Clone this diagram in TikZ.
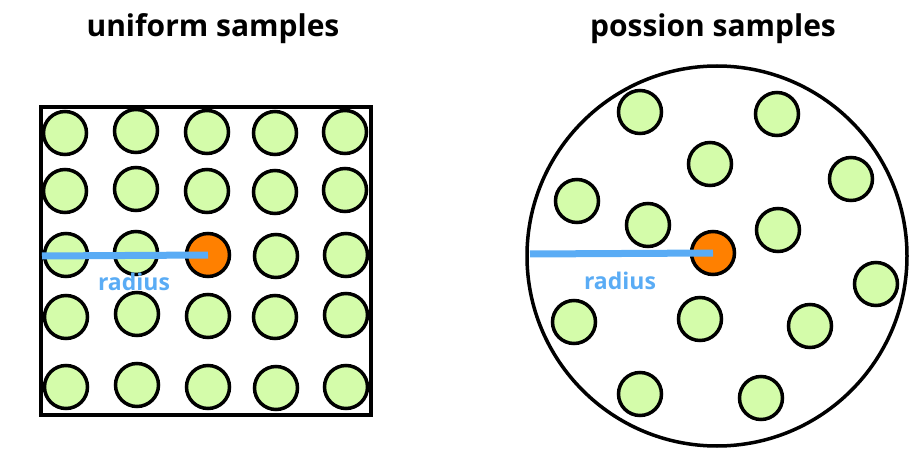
\documentclass[tikz,border=0pt]{standalone}
\usepackage{fontspec}
\setmainfont{Open Sans}
\definecolor{dotgreen}{RGB}{212,252,170}
\definecolor{dotorange}{RGB}{255,128,0}
\definecolor{radblue}{RGB}{90,172,245}
\begin{document}
\begin{tikzpicture}[x=1pt,y=-1pt,
  dot/.style={circle,draw=black,line width=3.5pt,fill=dotgreen,minimum size=43pt,inner sep=0pt},
  center/.style={dot,fill=dotorange},
  radline/.style={draw=radblue,line width=7pt},
  radlabel/.style={text=radblue,font=\fontsize{23}{26}\selectfont\bfseries},
  title/.style={font=\fontsize{30}{36}\selectfont\bfseries},
  frame/.style={draw=black,line width=3.5pt}]
\useasboundingbox (0,0) rectangle (922,468);
% titles
\node[title] (t1) at (213,29) {uniform samples};
\node[title] (t2) at (713,29) {possion samples};
% left square
\node[frame,minimum width=330pt,minimum height=308pt,inner sep=0pt] (sq) at (206,261) {};
\foreach \n/\x/\y in {
 a1/65/133,a2/136/131,a3/207/132,a4/275/133,a5/345/132,
 b1/65/191,b2/136/189,b3/207/191,b4/275/192,b5/345/190,
 c1/66/255,c2/136/253,c4/276/256,c5/346/255,
 d1/66/317,d2/137/314,d3/208/316,d4/275/317,d5/346/315,
 e1/66/387,e2/137/385,e3/208/387,e4/276/388,e5/346/387}
 \node[dot] (\n) at (\x,\y) {};
\node[center] (c3) at (208,255) {};
\coordinate (lstart) at (42,256);
\draw[radline] (lstart) -- (c3.center);
\node[radlabel] (r1) at (134,282) {radius};
% right circle
\node[frame,circle,minimum size=380pt,inner sep=0pt] (bc) at (717,256) {};
\foreach \n/\x/\y in {
 p1/640/112,p2/777/114,p3/710/164,p4/851/179,p5/577/201,p6/648/225,
 p7/778/230,p9/876/284,p10/574/322,p11/700/319,p12/810/326,p13/640/394,p14/761/398}
 \node[dot] (\n) at (\x,\y) {};
\node[center] (p8) at (713,253) {};
\coordinate (rstart) at (530,254);
\draw[radline] (rstart) -- (p8.center);
\node[radlabel] (r2) at (620,281) {radius};
\end{tikzpicture}
\end{document}
